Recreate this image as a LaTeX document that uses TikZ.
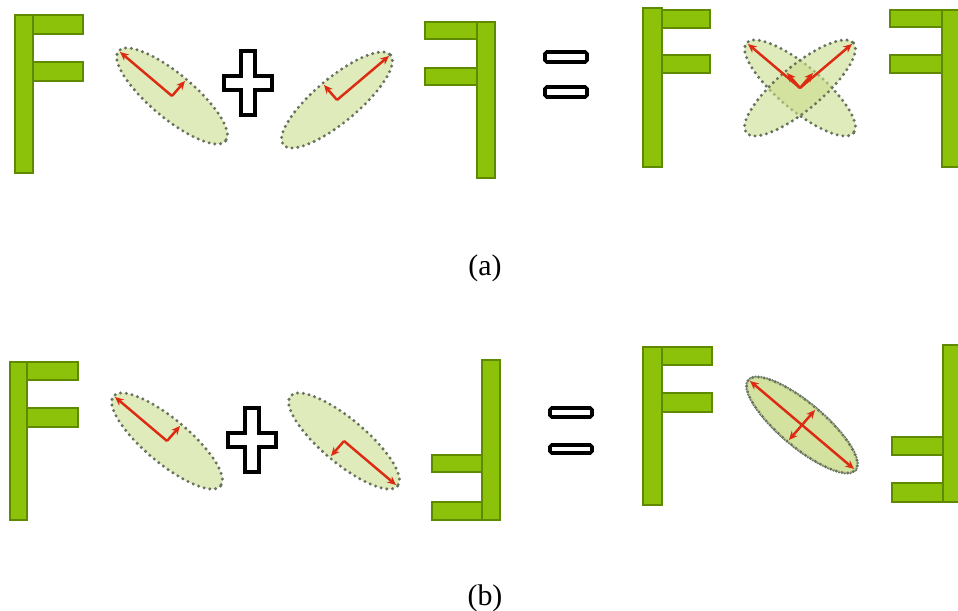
\documentclass[tikz,border=0pt]{standalone}
\usepackage{fontspec}
\setmainfont{Liberation Serif}
\usetikzlibrary{arrows.meta}
\definecolor{barGreen}{HTML}{8CC30A}
\definecolor{barEdge}{HTML}{5F8A00}
\definecolor{lobeGreen}{HTML}{CADD8C}
\definecolor{dotGray}{HTML}{66725E}
\definecolor{arrowRed}{HTML}{DD2A12}

\begin{document}
\begin{tikzpicture}[x=0.02cm, y=-0.02cm,
    fbar/.style={fill=barGreen, draw=barEdge, line width=0.6pt},
    lobe/.style={fill=lobeGreen, fill opacity=0.6, draw=dotGray, line width=1.9pt,
        dash pattern=on 0pt off 3.3pt, line cap=round},
    axisarrow/.style={draw=arrowRed, line width=1.4pt, -{Stealth[length=5pt,width=4.5pt]}},
    twoway/.style={axisarrow, {Stealth[length=5pt,width=4.5pt]}-{Stealth[length=5pt,width=4.5pt]}},
    plussign/.style={draw=black, line width=2pt, fill=white},
    eqbar/.style={draw=black, line width=2pt, fill=white, rounded corners=1pt},
    caption/.style={font=\fontsize{17}{20}\selectfont}]
    \useasboundingbox (0,0) rectangle (958,611);

    % (a) F + lobe + lobe + mirrored F
    \draw[fbar] (15,15) rectangle (33,173);
    \draw[fbar] (33,15) rectangle (83,34);
    \draw[fbar] (33,62) rectangle (83,81);
    \draw[lobe, rotate around={-40:(172,96)}] (172,96) ellipse [x radius=70, y radius=22];
    \draw[axisarrow] (172,96) -- (120,52);
    \draw[axisarrow] (172,96) -- (185,81);
    \draw[plussign, shift={(248,83)}] (-7,-32) -- (7,-32) -- (7,-7) -- (24,-7) -- (24,7) -- (7,7)
        -- (7,32) -- (-7,32) -- (-7,7) -- (-24,7) -- (-24,-7) -- (-7,-7) -- cycle;
    \draw[lobe, rotate around={40:(337,100)}] (337,100) ellipse [x radius=70, y radius=22];
    \draw[axisarrow] (337,100) -- (389,56);
    \draw[axisarrow] (337,100) -- (324,85);
    \draw[fbar] (477,22) rectangle (495,178);
    \draw[fbar] (425,22) rectangle (477,39);
    \draw[fbar] (425,68) rectangle (477,85);
    \draw[eqbar] (545,52) rectangle (587,62);
    \draw[eqbar] (545,87) rectangle (587,97);
    \draw[fbar] (643,8) rectangle (662,167);
    \draw[fbar] (662,10) rectangle (710,28);
    \draw[fbar] (662,55) rectangle (710,73);
    \draw[lobe, rotate around={-40:(800,88)}] (800,88) ellipse [x radius=70, y radius=22];
    \draw[lobe, rotate around={40:(800,88)}] (800,88) ellipse [x radius=70, y radius=22];
    \draw[axisarrow] (800,88) -- (748,44);
    \draw[axisarrow] (800,88) -- (852,44);
    \draw[axisarrow] (800,88) -- (813,73);
    \draw[axisarrow] (800,88) -- (787,73);
    \draw[fbar] (942,10) rectangle (961,167);
    \draw[fbar] (890,10) rectangle (942,27);
    \draw[fbar] (890,55) rectangle (942,73);
    \node[caption] (labelA) at (485,268) {(a)};

    % (b) F + lobe + lobe + flipped F
    \draw[fbar] (10,362) rectangle (27,520);
    \draw[fbar] (27,362) rectangle (78,380);
    \draw[fbar] (27,408) rectangle (78,427);
    \draw[lobe, rotate around={-40:(167,441)}] (167,441) ellipse [x radius=70, y radius=22];
    \draw[axisarrow] (167,441) -- (115,397);
    \draw[axisarrow] (167,441) -- (180,426);
    \draw[plussign, shift={(252,440)}] (-7,-32) -- (7,-32) -- (7,-7) -- (24,-7) -- (24,7) -- (7,7)
        -- (7,32) -- (-7,32) -- (-7,7) -- (-24,7) -- (-24,-7) -- (-7,-7) -- cycle;
    \draw[lobe, rotate around={-40:(344,441)}] (344,441) ellipse [x radius=70, y radius=22];
    \draw[axisarrow] (344,441) -- (396,485);
    \draw[axisarrow] (344,441) -- (331,456);
    \draw[fbar] (482,360) rectangle (500,520);
    \draw[fbar] (432,455) rectangle (482,472);
    \draw[fbar] (432,502) rectangle (482,520);
    \draw[eqbar] (550,408) rectangle (592,417);
    \draw[eqbar] (550,445) rectangle (592,453);
    \draw[fbar] (643,347) rectangle (662,505);
    \draw[fbar] (662,347) rectangle (712,365);
    \draw[fbar] (662,393) rectangle (712,412);
    \draw[lobe, rotate around={-40:(802,425)}] (802,425) ellipse [x radius=70, y radius=22];
    \draw[lobe, dash phase=1.65pt, rotate around={-40:(802,425)}] (802,425) ellipse [x radius=70, y radius=22];
    \draw[twoway] (750,381) -- (854,469);
    \draw[twoway] (789,440) -- (815,410);
    \draw[fbar] (943,345) rectangle (961,502);
    \draw[fbar] (892,437) rectangle (943,455);
    \draw[fbar] (892,483) rectangle (943,502);
    \node[caption] (labelB) at (485,598) {(b)};
\end{tikzpicture}
\end{document}
